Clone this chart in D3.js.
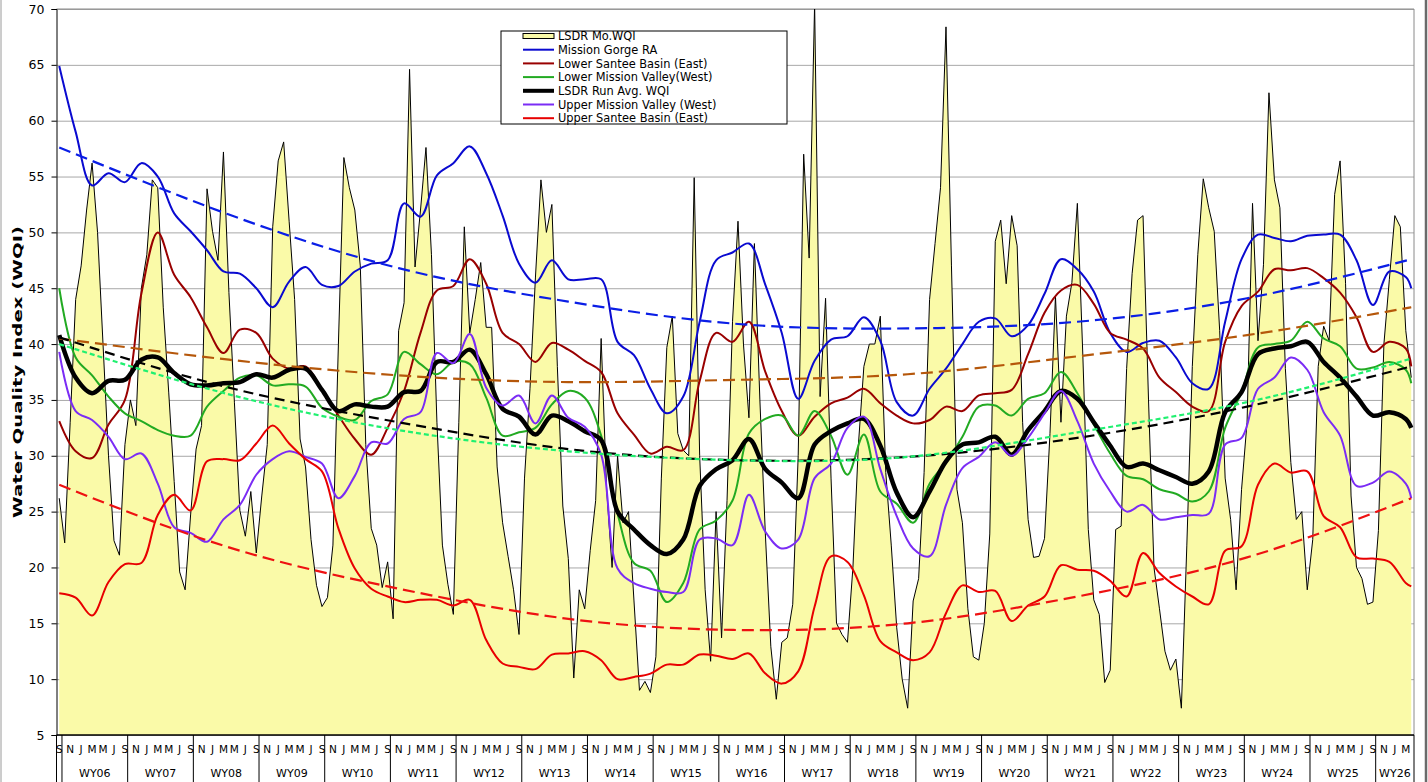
<!DOCTYPE html>
<html>
<head>
<meta charset="utf-8">
<script src="https://cdn.jsdelivr.net/npm/d3@7"></script>
<style>
  body { margin: 0; background: #fff; }
  svg { display: block; font-family: "DejaVu Sans", Verdana, sans-serif; }
</style>
</head>
<body>
<svg id="drawing_region" width="1428" height="782"></svg>
<script>
// ---- data ----
const waterYears = ['WY06','WY07','WY08','WY09','WY10','WY11','WY12','WY13','WY14','WY15','WY16',
                    'WY17','WY18','WY19','WY20','WY21','WY22','WY23','WY24','WY25','WY26'];
const monthLetters = ['J','F','M','A','M','J','J','A','S','O','N','D'];
const firstMonth = 8;           // first category is Sep 2005
const yTicks = d3.range(5, 71, 5);

// monthly LSDR WQI, Sep 2005 .. Apr 2026
const monthlyWqi = [
  26.2,
  22.2, 33, 44, 47, 52, 56.2, 50, 40, 30, 22.4, 21.1, 31,
  35, 32.7, 45, 48, 54.7, 54, 43.3, 35.7, 27.7, 19.6, 18, 24.7,
  30.6, 32.7, 53.9, 50.1, 47.5, 57.2, 44.6, 34.8, 25.1, 22.8, 26.8, 21.3,
  26.4, 31, 50.5, 56.4, 58.1, 51, 44, 31.5, 29, 22.5, 18.4, 16.5,
  17.3, 22, 40, 56.7, 54, 52, 47, 31, 23.5, 22, 18.2, 20.5,
  15.4, 41.2, 43.7, 64.6, 46.9, 52, 57.6, 48, 33, 22, 18.5, 15.8,
  33, 50.5, 41, 44, 47.3, 41.5, 41.5, 29, 24, 21, 18, 14,
  28, 36, 46, 54.7, 50, 52.5, 38, 25.5, 20.8, 10.1, 18, 16.3,
  21.5, 26, 40.5, 27, 20, 30, 24, 25, 17, 9, 9.8, 8.8,
  12, 28, 39.7, 42.5, 32, 30.5, 30, 54.9, 30, 18, 11.6, 25,
  13.7, 26, 42, 51, 40, 33.4, 49, 35, 23, 12.9, 8.2, 13.3,
  13.7, 16.7, 30, 57, 47.7, 70.5, 35.3, 44.1, 28, 15, 14, 13.3,
  20, 31, 38, 40, 40, 42.5, 28.5, 22, 14.6, 10, 7.4, 17,
  19, 28.5, 44, 49, 54, 68.4, 47, 27, 24, 16.3, 12, 11.7,
  15, 23, 49.2, 51.1, 45.4, 51.5, 48.8, 33, 24.3, 20.9, 21, 22.6,
  32, 44.3, 33, 42.5, 45.5, 52.6, 39, 23.4, 17.1, 15.8, 9.7, 10.8,
  23.4, 23.7, 37.8, 46.3, 51.1, 51.5, 35, 20, 16.3, 12.5, 10.8, 11.8,
  7.4, 22, 38, 48, 54.8, 52.2, 50.1, 41.2, 28, 24.3, 18, 27,
  33, 52.6, 40.3, 47.1, 62.5, 54.7, 52.2, 37.8, 29.4, 24.3, 25, 18,
  22.5, 38, 41.6, 40.3, 53.4, 56.4, 45.4, 26.4, 20, 19, 16.7, 16.9,
  23.3, 40, 45.8, 51.5, 50.5, 41.2, 37
];

// station lines, sampled every third month
const lineMonths = d3.range(0, 247, 3).concat([247]);

const missionGorge = [64.9, 59, 54.2, 55.3, 54.5, 56.2, 55, 51.7, 50.1, 48.4, 46.5, 46.3, 45, 43.3,
  45.6, 46.9, 45.3, 45.2, 46.5, 47.2, 47.5, 52.6, 51.4, 55.1, 56.2, 57.7, 55.3, 51.5,
  47.2, 45.5, 47.5, 45.8, 45.8, 45.8, 40.2, 39, 36, 33.8, 35.3, 42, 47.5, 48.2,
  49, 45.3, 41, 35.1, 38.5, 40.4, 40.7, 42.4, 40.3, 34.8, 33.6, 36, 37.8, 40,
  42, 42.3, 40.7, 41.7, 44.5, 47.6, 46.7, 44.7, 41, 39.3, 40.1, 40.3, 38.8, 36.5,
  36, 42, 47.6, 49.8, 49.5, 49.2, 49.7, 49.8, 49.8, 47.5, 43.5, 46.5, 46, 45];

const lowerSantee = [33.1, 30.4, 29.8, 32.8, 35, 44.5, 50, 46.2, 44.2, 41.5, 39.2, 41.3, 41, 38.7,
  37.8, 38, 35.9, 33.6, 31.5, 30.1, 32.5, 35.8, 41, 44.8, 45.2, 47.6, 45.4, 41,
  40, 38.4, 40.1, 39.5, 38.5, 37.5, 33.8, 31.9, 30.2, 30.8, 30.5, 36.7, 41, 40.2,
  42, 37.5, 34, 31.8, 33.5, 34.7, 35.2, 36, 34.7, 33.6, 32.9, 33.2, 34.4, 34,
  35.4, 35.6, 35.9, 39.1, 42.8, 44.8, 45.3, 43.6, 41, 40.4, 39.6, 37, 35.7, 34.4,
  34, 40.2, 43.4, 44.7, 46.7, 46.6, 46.8, 45.9, 44.6, 42.4, 39.3, 40.2, 39.6, 38];

const lowerMission = [45, 38.8, 37.2, 35.3, 33.8, 33.1, 32.3, 31.8, 31.8, 34.4, 35.8, 37, 37.2, 36.3,
  36.4, 36.2, 34.3, 33.5, 33.2, 34.9, 35.5, 39.3, 38.2, 37.3, 38.4, 38.2, 35.2, 31.8,
  32.1, 32.5, 34.6, 35.8, 35.2, 31.8, 24.8, 20.4, 19.7, 16.9, 18.6, 23.4, 24.2, 26,
  32, 33.3, 33.6, 31.8, 34, 31.8, 28.3, 31.9, 26.8, 25.7, 24, 27.5, 29.4, 31.7,
  34.4, 34.5, 33.6, 35.1, 35.6, 37.5, 35.6, 32.8, 30.2, 28.2, 27.9, 27, 26.6, 25.9,
  26.8, 32.5, 35.7, 39.7, 40, 40.3, 42, 40.5, 39.8, 37.8, 37.9, 38.4, 37.7, 36.5];

const runAvg = [40.8, 37, 35.6, 36.7, 36.8, 38.6, 38.8, 37.4, 36.4, 36.3, 36.5, 36.6, 37.3, 37,
  37.7, 37.8, 35.9, 34, 34.6, 34.4, 34.4, 35.7, 35.8, 38.4, 38.4, 39.5, 37.3, 34.2,
  33.5, 31.9, 33.6, 33.1, 32.2, 31.4, 25, 23.4, 22, 21.2, 22.5, 27.3, 28.8, 29.6,
  31.5, 28.8, 27.6, 26.2, 31, 32.2, 32.9, 33.3, 30.9, 26.7, 24.5, 26.8, 29.5, 31,
  31.2, 31.7, 30.1, 32.3, 34, 35.8, 35.1, 33, 30.9, 29, 29.3, 28.7, 28.1, 27.5,
  28.6, 33.9, 35.7, 39.1, 39.6, 39.8, 40.2, 38.4, 37, 35.3, 33.6, 33.9, 33.3, 32.5];

const upperMission = [39.3, 34, 33.2, 31.7, 29.7, 30.2, 27.5, 23.6, 23.1, 22.3, 24.3, 25.6, 28.3, 29.7,
  30.4, 29.9, 29.3, 26.2, 28.2, 31.2, 31.1, 33.3, 33.9, 39.2, 38.3, 40.9, 36.1, 34.5,
  35.4, 32.9, 35.4, 33.4, 32.6, 30.1, 19.9, 18.6, 18.1, 17.8, 17.8, 22.5, 22.6, 22,
  26.5, 23.2, 21.7, 22.5, 28, 29.3, 32.5, 33.5, 28.8, 24.6, 21.7, 21, 25.6, 28.9,
  29.9, 31.2, 30, 31.6, 33.8, 35.8, 33.1, 29.3, 26.8, 25, 25.6, 24.3, 24.5, 24.7,
  24.8, 31, 31.6, 36, 37, 38.8, 37.7, 33.9, 31.8, 27.3, 27.6, 28.6, 27.5, 26.2];

const upperSantee = [17.7, 17.3, 15.7, 18.7, 20.3, 20.4, 24.7, 26.5, 25.1, 29.5, 29.7, 29.6, 31.1, 32.7,
  31.1, 29.7, 28.6, 23.5, 19.9, 18.1, 17.4, 16.9, 17.1, 17.1, 16.6, 17.1, 13.5, 11.4,
  11.1, 10.9, 12.2, 12.3, 12.5, 11.7, 10, 10.2, 10.5, 11.3, 11.3, 12.2, 12.1, 11.8,
  12.3, 10.5, 9.6, 10.7, 16.5, 21, 20.5, 17.5, 13.4, 12.4, 11.7, 12.4, 15.9, 18.4,
  17.8, 17.9, 15.2, 16.6, 17.4, 20.2, 19.8, 19.7, 18.8, 17.4, 21.3, 19.5, 18.3, 17.4,
  16.7, 21.5, 21.9, 27.4, 29.3, 28.5, 28.6, 24.6, 23.6, 20.9, 20.8, 20.5, 18.6, 18.3];

// trend lines (dashed), read at a few months
const trendMonths = [0, 31, 62, 93, 124, 155, 186, 217, 247];
const trendGorge        = [57.6, 51.6, 46.8, 43.8, 41.8, 41.4, 42, 44.1, 47.6];
const trendLowerSantee  = [40.5, 38.6, 37.2, 36.6, 36.8, 37.3, 38.9, 40.8, 43.3];
const trendRunAvg       = [40.6, 36.1, 33, 30.6, 29.6, 29.9, 31.6, 34.4, 38];
const trendLowerMission = [40, 35.5, 32.3, 30.4, 29.6, 29.9, 32.1, 34.8, 38.7];
const trendUpperSantee  = [27.4, 21.8, 18.1, 15.4, 14.4, 15, 17.4, 20.9, 26.2];

// ---- drawing ----
const W = 1428, H = 782;
const plot = { left: 56.5, right: 1414, top: 9, bottom: 735 };

const svg = d3.select('#drawing_region');

const xscale = d3.scaleLinear()
  .domain([-0.5, monthlyWqi.length - 0.5])
  .range([plot.left, plot.right]);
const yscale = d3.scaleLinear()
  .domain([5, 70])
  .range([plot.bottom, plot.top]);

svg.append('defs').append('clipPath').attr('id', 'plotclip')
  .append('rect')
  .attr('x', plot.left).attr('y', plot.top)
  .attr('width', plot.right - plot.left).attr('height', plot.bottom - plot.top);

// gridlines
svg.append('g')
  .attr('transform', `translate(${plot.left},0)`)
  .call(d3.axisLeft(yscale).tickValues(yTicks).tickSize(-(plot.right - plot.left)).tickFormat(''))
  .call(g => g.select('.domain').remove())
  .selectAll('line')
  .attr('stroke', '#505050')
  .attr('stroke-dasharray', '1,1');

// plot border (top/right)
svg.append('path')
  .attr('d', `M${plot.left},${plot.top}H${plot.right}V${plot.bottom}`)
  .attr('fill', 'none').attr('stroke', '#8a8a8a').attr('stroke-width', 1);

const chart = svg.append('g').attr('clip-path', 'url(#plotclip)');

// area series
const area = d3.area()
  .x((d, i) => xscale(i))
  .y0(yscale(5))
  .y1(d => yscale(d));
const areaTop = d3.line()
  .x((d, i) => xscale(i))
  .y(d => yscale(d));

chart.append('path')
  .datum(monthlyWqi)
  .attr('d', area)
  .attr('fill', '#fafaa8');
chart.append('path')
  .datum(monthlyWqi)
  .attr('d', areaTop)
  .attr('fill', 'none')
  .attr('stroke', '#000')
  .attr('stroke-width', 1);

// station lines
const smooth = d3.line()
  .x(d => xscale(d[0]))
  .y(d => yscale(d[1]))
  .curve(d3.curveCatmullRom.alpha(0.5));

const lines = [
  { name: 'Mission Gorge RA',            values: missionGorge, color: '#0a0ad0', width: 2 },
  { name: 'Lower Santee Basin (East)',   values: lowerSantee,  color: '#990000', width: 2 },
  { name: 'Lower Mission Valley(West)',  values: lowerMission, color: '#22aa22', width: 2 },
  { name: 'LSDR Run Avg. WQI',           values: runAvg,       color: '#000000', width: 4.5 },
  { name: 'Upper Mission Valley (West)', values: upperMission, color: '#7b2cf5', width: 2 },
  { name: 'Upper Santee Basin (East)',   values: upperSantee,  color: '#e80000', width: 2 }
];

lines.forEach(s => {
  chart.append('path')
    .datum(lineMonths.map((m, i) => [m, s.values[i]]))
    .attr('d', smooth)
    .attr('fill', 'none')
    .attr('stroke', s.color)
    .attr('stroke-width', s.width)
    .attr('stroke-linejoin', 'round');
});

// trend lines
const trendLine = d3.line()
  .x(d => xscale(d[0]))
  .y(d => yscale(d[1]))
  .curve(d3.curveNatural);

const trends = [
  { values: trendGorge,        color: '#0a1ee6', dash: '12,6' },
  { values: trendLowerSantee,  color: '#b5570a', dash: '12,6' },
  { values: trendRunAvg,       color: '#000000', dash: '10,6' },
  { values: trendLowerMission, color: '#20f070', dash: '5,3' },
  { values: trendUpperSantee,  color: '#ee1111', dash: '12,6' }
];
trends.forEach(t => {
  chart.append('path')
    .datum(trendMonths.map((m, i) => [m, t.values[i]]))
    .attr('d', trendLine)
    .attr('fill', 'none')
    .attr('stroke', t.color)
    .attr('stroke-width', 2.2)
    .attr('stroke-dasharray', t.dash);
});

// y axis
svg.append('g')
  .attr('transform', `translate(${plot.left},0)`)
  .call(d3.axisLeft(yscale).tickValues(yTicks).tickSize(5).tickPadding(7))
  .call(g => g.select('.domain').attr('stroke', '#000'))
  .call(g => g.selectAll('text').attr('font-size', '12.5px').attr('fill', '#000')
                .attr('font-family', '"DejaVu Sans", Verdana, sans-serif'));

svg.append('text')
  .attr('transform', `translate(17,${(plot.top + plot.bottom) / 2}) rotate(-90)`)
  .attr('text-anchor', 'middle')
  .attr('dy', '0.35em')
  .attr('font-size', '13px')
  .attr('font-weight', 'bold')
  .attr('textLength', 292)
  .attr('lengthAdjust', 'spacingAndGlyphs')
  .text('Water Quality Index (WQI)');

// x axis: baseline, separators, month letters, water years
const xaxis = svg.append('g');
xaxis.append('line')
  .attr('x1', plot.left).attr('x2', plot.right)
  .attr('y1', plot.bottom).attr('y2', plot.bottom)
  .attr('stroke', '#000').attr('stroke-width', 1.5);

const yearStart = k => xscale(1 + 12 * k - 0.5);
const sepX = [plot.left].concat(waterYears.map((d, k) => yearStart(k))).concat([plot.right]);
xaxis.selectAll('line.sep')
  .data(sepX)
  .enter().append('line')
  .attr('class', 'sep')
  .attr('x1', d => d).attr('x2', d => d)
  .attr('y1', plot.bottom).attr('y2', H)
  .attr('stroke', '#000').attr('stroke-width', 1);

const labelIdx = d3.range(0, monthlyWqi.length, 2);
xaxis.selectAll('text.month')
  .data(labelIdx)
  .enter().append('text')
  .attr('class', 'month')
  .attr('x', d => xscale(d))
  .attr('y', 753)
  .attr('text-anchor', 'middle')
  .attr('font-size', '10.5px')
  .text(d => monthLetters[(firstMonth + d) % 12]);

xaxis.selectAll('text.wy')
  .data(waterYears)
  .enter().append('text')
  .attr('class', 'wy')
  .attr('x', (d, k) => (yearStart(k) + Math.min(yearStart(k + 1), plot.right)) / 2)
  .attr('y', 777)
  .attr('text-anchor', 'middle')
  .attr('font-size', '11px')
  .text(d => d);

// chart frame
svg.append('line').attr('x1', 1).attr('x2', 1).attr('y1', 0).attr('y2', H)
  .attr('stroke', '#9a9a9a').attr('stroke-width', 1);
svg.append('line').attr('x1', 1426).attr('x2', 1426).attr('y1', 0).attr('y2', H)
  .attr('stroke', '#6a6a6a').attr('stroke-width', 2.5);

// legend
const legend = svg.append('g').attr('transform', 'translate(501,31)');
legend.append('rect')
  .attr('width', 286).attr('height', 93)
  .attr('fill', '#fff').attr('stroke', '#000').attr('stroke-width', 1);

const legendItems = [{ name: 'LSDR Mo.WQI', area: true }].concat(lines);
const rows = legend.selectAll('g.item')
  .data(legendItems)
  .enter().append('g')
  .attr('class', 'item')
  .attr('transform', (d, i) => `translate(0,${5 + 13.7 * i})`);

rows.each(function (d) {
  const g = d3.select(this);
  if (d.area) {
    g.append('rect')
      .attr('x', 22).attr('y', -2.5).attr('width', 31).attr('height', 5)
      .attr('fill', '#fafaa8').attr('stroke', '#000').attr('stroke-width', 1);
  } else {
    g.append('line')
      .attr('x1', 22).attr('x2', 53)
      .attr('stroke', d.color).attr('stroke-width', d.width === 2 ? 2 : 4);
  }
  g.append('text')
    .attr('x', 57).attr('dy', '0.36em')
    .attr('font-size', '11.4px')
    .text(d.name);
});
</script>
</body>
</html>
